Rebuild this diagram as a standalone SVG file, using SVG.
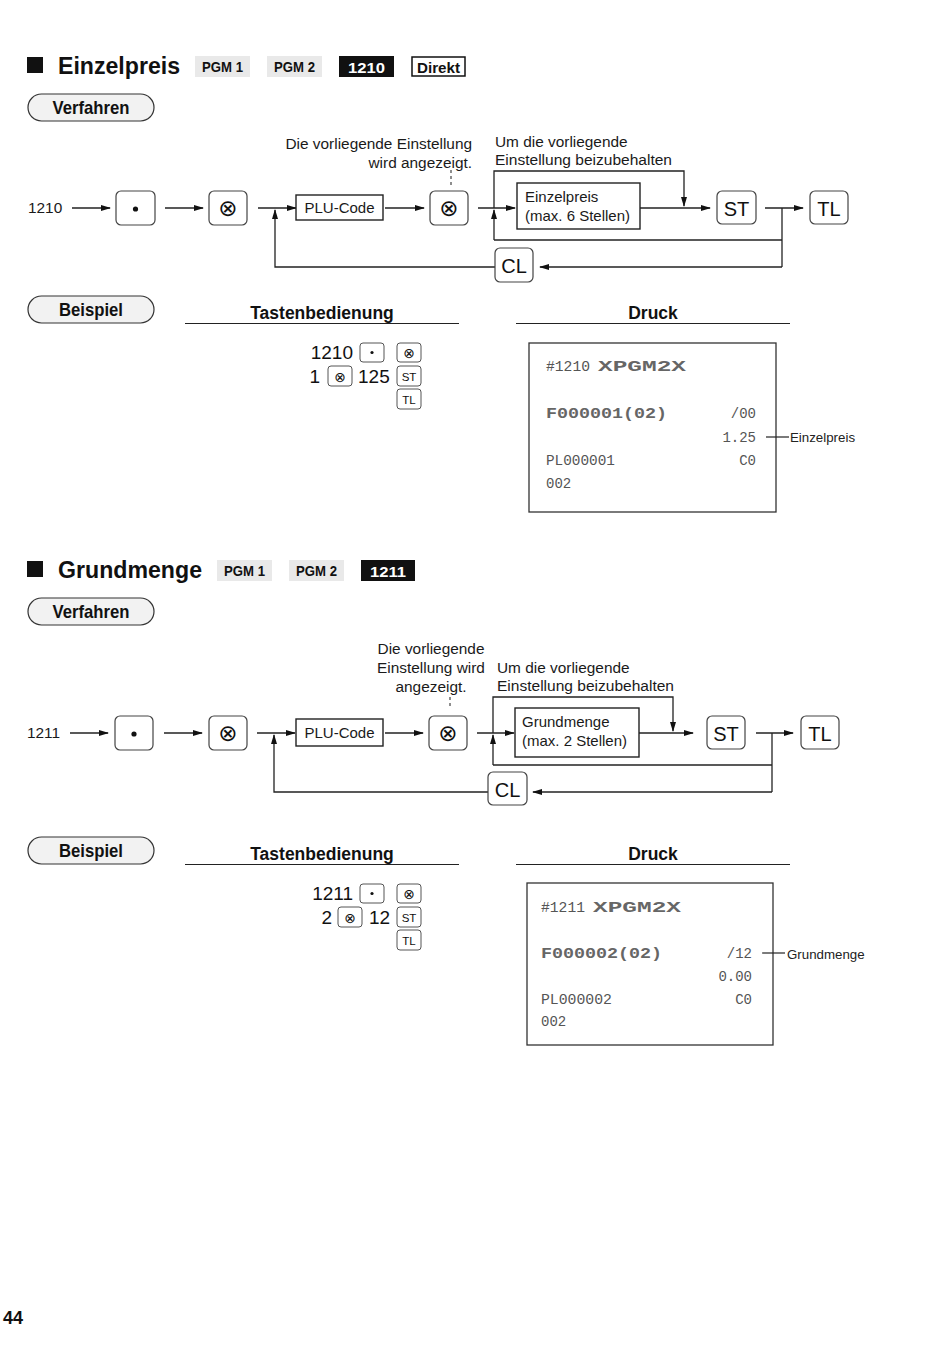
<svg xmlns="http://www.w3.org/2000/svg" width="950" height="1368" viewBox="0 0 950 1368">
<style>
.t{font-family:"Liberation Sans",Arial,sans-serif;fill:#111}
.ft{font-family:"Liberation Sans",Arial,sans-serif;font-size:15.4px;fill:#1a1a1a}
.bx{font-family:"Liberation Sans",Arial,sans-serif;font-size:15px;fill:#1a1a1a}
.key{fill:#fff;stroke:#444;stroke-width:1.2}
.klab{font-family:"Liberation Sans",Arial,sans-serif;font-size:20px;fill:#111;text-anchor:middle}
.sym{font-family:"DejaVu Sans",sans-serif;font-size:23px;fill:#111;text-anchor:middle}
.skey{fill:#fff;stroke:#555;stroke-width:1}
.ssym{font-family:"DejaVu Sans",sans-serif;font-size:14px;fill:#111;text-anchor:middle}
.slab{font-family:"Liberation Sans",Arial,sans-serif;font-size:11.5px;fill:#111;text-anchor:middle}
.ops{font-family:"Liberation Sans",Arial,sans-serif;font-size:19px;fill:#111}
.pill{fill:#f2f2f2;stroke:#333;stroke-width:1.2}
.pilltxt{font-family:"Liberation Sans",Arial,sans-serif;font-size:19px;font-weight:bold;fill:#111;text-anchor:middle}
.tag{fill:#e9e9e9}
.tagtxt{font-family:"Liberation Sans",Arial,sans-serif;font-size:15px;font-weight:bold;fill:#111}
.head{font-family:"Liberation Sans",Arial,sans-serif;font-size:17.5px;font-weight:bold;fill:#111;text-anchor:middle}
.rc{font-family:"Liberation Mono","DejaVu Sans Mono",monospace;font-size:14px;fill:#555}
.rcb{font-family:"Liberation Mono","DejaVu Sans Mono",monospace;font-size:15px;font-weight:bold;fill:#666}
.lbl{font-family:"Liberation Sans",Arial,sans-serif;font-size:13.3px;fill:#222}
.ln{fill:none;stroke:#222;stroke-width:1.3}
.la{fill:none;stroke:#222;stroke-width:1.3;marker-end:url(#ah)}
.dash{fill:none;stroke:#444;stroke-width:1.2;stroke-dasharray:3,3}
.box{fill:#fff;stroke:#222;stroke-width:1.4}
</style>
<defs>
<marker id="ah" markerWidth="10" markerHeight="6" refX="9" refY="3" orient="auto" markerUnits="userSpaceOnUse">
<path d="M0,0 L10,3 L0,6 z" fill="#111"/>
</marker>
</defs>
<rect width="950" height="1368" fill="#fff"/>

<!-- ============ SECTION 1 ============ -->
<g id="title1">
<rect x="27" y="57" width="16" height="16" fill="#111"/>
<text class="t" x="58" y="74" font-size="23.5" font-weight="bold" textLength="122" lengthAdjust="spacingAndGlyphs">Einzelpreis</text>
<rect class="tag" x="195" y="56" width="55" height="21"/>
<text class="tagtxt" x="202" y="72" textLength="41" lengthAdjust="spacingAndGlyphs">PGM 1</text>
<rect class="tag" x="267" y="56" width="55" height="21"/>
<text class="tagtxt" x="274" y="72" textLength="41" lengthAdjust="spacingAndGlyphs">PGM 2</text>
<rect x="339" y="56" width="55" height="21" fill="#111"/>
<text class="tagtxt" x="348" y="73" style="fill:#fff" font-size="17" textLength="37" lengthAdjust="spacingAndGlyphs">1210</text>
<rect x="412" y="57" width="53" height="19" fill="#fff" stroke="#111" stroke-width="1.5"/>
<text class="tagtxt" x="417" y="73" font-size="17" textLength="43" lengthAdjust="spacingAndGlyphs">Direkt</text>
</g>

<g id="verfahren1">
<rect class="pill" x="28" y="94" width="126" height="27" rx="13.5"/>
<text class="pilltxt" x="91" y="114" textLength="77" lengthAdjust="spacingAndGlyphs">Verfahren</text>
</g>

<g id="flow1-connectors">
<line class="la" x1="72" y1="208" x2="110" y2="208"/>
<line class="la" x1="165" y1="208" x2="203" y2="208"/>
<line class="la" x1="258" y1="208" x2="296" y2="208"/>
<line class="la" x1="385" y1="208" x2="424" y2="208"/>
<line class="la" x1="478" y1="208" x2="515" y2="208"/>
<line class="la" x1="640" y1="208" x2="710" y2="208"/>
<line class="la" x1="765" y1="208" x2="803" y2="208"/>
<path class="la" d="M494,240 L494,210"/>
<path class="la" d="M494,208 L494,171 L684,171 L684,206"/>
<path class="ln" d="M782,208 L782,267"/>
<path class="ln" d="M782,240 L494,240"/>
<path class="la" d="M782,267 L540,267"/>
<path class="la" d="M495,267 L275,267 L275,210"/>
<line class="dash" x1="451" y1="170" x2="451" y2="188"/>
</g>

<g id="flow1-notes">
<text class="ft" x="472" y="149" text-anchor="end">Die vorliegende Einstellung</text>
<text class="ft" x="472" y="168" text-anchor="end">wird angezeigt.</text>
<text class="ft" x="495" y="147">Um die vorliegende</text>
<text class="ft" x="495" y="165" textLength="177" lengthAdjust="spacingAndGlyphs">Einstellung beizubehalten</text>
</g>

<g id="n1-start"><text class="ft" x="28" y="213">1210</text></g>
<g id="n1-dot"><rect class="key" x="116" y="191" width="39" height="34" rx="5"/><circle cx="135.5" cy="209" r="2.6" fill="#111"/></g>
<g id="n1-x1"><rect class="key" x="209" y="191" width="38" height="34" rx="5"/><text class="sym" x="228" y="216">⊗</text></g>
<g id="n1-plu"><rect class="box" x="296" y="195" width="87" height="25"/><text class="bx" x="339.5" y="213" text-anchor="middle">PLU-Code</text></g>
<g id="n1-x2"><rect class="key" x="430" y="191" width="38" height="34" rx="5"/><text class="sym" x="449" y="216">⊗</text></g>
<g id="n1-price"><rect class="box" x="517" y="183" width="123" height="46"/><text class="bx" x="525" y="202">Einzelpreis</text><text class="bx" x="525" y="221">(max. 6 Stellen)</text></g>
<g id="n1-st"><rect class="key" x="717" y="191" width="39" height="33" rx="5"/><text class="klab" x="736.5" y="216">ST</text></g>
<g id="n1-tl"><rect class="key" x="810" y="191" width="38" height="33" rx="5"/><text class="klab" x="829" y="216">TL</text></g>
<g id="n1-cl"><rect class="key" x="495" y="248" width="38" height="34" rx="5"/><text class="klab" x="514" y="273">CL</text></g>

<g id="beispiel1">
<rect class="pill" x="28" y="296" width="126" height="27" rx="13.5"/>
<text class="pilltxt" x="91" y="316" textLength="64" lengthAdjust="spacingAndGlyphs">Beispiel</text>
<text class="head" x="322" y="319">Tastenbedienung</text>
<line x1="185" y1="323.5" x2="459" y2="323.5" stroke="#222" stroke-width="1.2"/>
<text class="head" x="653" y="319">Druck</text>
<line x1="516" y1="323.5" x2="790" y2="323.5" stroke="#222" stroke-width="1.2"/>
</g>

<g id="ops1">
<text class="ops" x="353" y="359" text-anchor="end">1210</text>
<rect class="skey" x="360" y="343" width="24" height="19" rx="3"/><circle cx="372" cy="352.5" r="1.6" fill="#111"/>
<rect class="skey" x="397" y="343" width="24" height="19" rx="3"/><text class="ssym" x="409" y="357.5">⊗</text>
<text class="ops" x="320" y="383" text-anchor="end">1</text>
<rect class="skey" x="328" y="366" width="24" height="20" rx="3"/><text class="ssym" x="340" y="381.5">⊗</text>
<text class="ops" x="358" y="383">125</text>
<rect class="skey" x="397" y="366" width="24" height="20" rx="3"/><text class="slab" x="409" y="381">ST</text>
<rect class="skey" x="397" y="389" width="24" height="20" rx="3"/><text class="slab" x="409" y="404">TL</text>
</g>

<g id="receipt1">
<rect x="529" y="343" width="247" height="169" fill="#fff" stroke="#333" stroke-width="1.3"/>
<text class="rc" x="546" y="371" textLength="44" lengthAdjust="spacingAndGlyphs">#1210</text>
<text class="rcb" x="598" y="371" textLength="88" lengthAdjust="spacingAndGlyphs">XPGM2X</text>
<text class="rcb" x="546" y="418" textLength="121" lengthAdjust="spacingAndGlyphs">F000001(02)</text>
<text class="rc" x="756" y="418" text-anchor="end">/00</text>
<text class="rc" x="756" y="442" text-anchor="end">1.25</text>
<text class="rc" x="546" y="465" textLength="69" lengthAdjust="spacingAndGlyphs">PL000001</text>
<text class="rc" x="756" y="465" text-anchor="end">C0</text>
<text class="rc" x="546" y="488">002</text>
<line x1="766" y1="437" x2="789" y2="437" stroke="#222" stroke-width="1.2"/>
<text class="lbl" x="790" y="442">Einzelpreis</text>
</g>

<!-- ============ SECTION 2 ============ -->
<g id="title2">
<rect x="27" y="561" width="16" height="16" fill="#111"/>
<text class="t" x="58" y="578" font-size="23.5" font-weight="bold" textLength="144" lengthAdjust="spacingAndGlyphs">Grundmenge</text>
<rect class="tag" x="217" y="560" width="55" height="21"/>
<text class="tagtxt" x="224" y="576" textLength="41" lengthAdjust="spacingAndGlyphs">PGM 1</text>
<rect class="tag" x="289" y="560" width="55" height="21"/>
<text class="tagtxt" x="296" y="576" textLength="41" lengthAdjust="spacingAndGlyphs">PGM 2</text>
<rect x="361" y="560" width="54" height="21" fill="#111"/>
<text class="tagtxt" x="370" y="577" style="fill:#fff" font-size="17" textLength="36" lengthAdjust="spacingAndGlyphs">1211</text>
</g>

<g id="verfahren2">
<rect class="pill" x="28" y="598" width="126" height="27" rx="13.5"/>
<text class="pilltxt" x="91" y="618" textLength="77" lengthAdjust="spacingAndGlyphs">Verfahren</text>
</g>

<g id="flow2-connectors">
<line class="la" x1="70" y1="733" x2="108" y2="733"/>
<line class="la" x1="164" y1="733" x2="202" y2="733"/>
<line class="la" x1="257" y1="733" x2="295" y2="733"/>
<line class="la" x1="385" y1="733" x2="423" y2="733"/>
<line class="la" x1="477" y1="733" x2="514" y2="733"/>
<line class="la" x1="639" y1="733" x2="693" y2="733"/>
<line class="la" x1="756" y1="733" x2="793" y2="733"/>
<path class="la" d="M493,765 L493,735"/>
<path class="la" d="M493,733 L493,697 L673,697 L673,731"/>
<path class="ln" d="M772,733 L772,792"/>
<path class="ln" d="M772,765 L493,765"/>
<path class="la" d="M772,792 L533,792"/>
<path class="la" d="M488,792 L274,792 L274,735"/>
<line class="dash" x1="450" y1="697" x2="450" y2="709"/>
</g>

<g id="flow2-notes">
<text class="ft" x="431" y="654" text-anchor="middle">Die vorliegende</text>
<text class="ft" x="431" y="673" text-anchor="middle">Einstellung wird</text>
<text class="ft" x="431" y="692" text-anchor="middle">angezeigt.</text>
<text class="ft" x="497" y="673">Um die vorliegende</text>
<text class="ft" x="497" y="691" textLength="177" lengthAdjust="spacingAndGlyphs">Einstellung beizubehalten</text>
</g>

<g id="n2-start"><text class="ft" x="27" y="738">1211</text></g>
<g id="n2-dot"><rect class="key" x="115" y="716" width="38" height="34" rx="5"/><circle cx="134" cy="734" r="2.6" fill="#111"/></g>
<g id="n2-x1"><rect class="key" x="209" y="716" width="38" height="34" rx="5"/><text class="sym" x="228" y="741">⊗</text></g>
<g id="n2-plu"><rect class="box" x="296" y="719" width="87" height="27"/><text class="bx" x="339.5" y="738" text-anchor="middle">PLU-Code</text></g>
<g id="n2-x2"><rect class="key" x="429" y="716" width="38" height="34" rx="5"/><text class="sym" x="448" y="741">⊗</text></g>
<g id="n2-qty"><rect class="box" x="515" y="708" width="124" height="49"/><text class="bx" x="522" y="727">Grundmenge</text><text class="bx" x="522" y="746">(max. 2 Stellen)</text></g>
<g id="n2-st"><rect class="key" x="707" y="716" width="38" height="33" rx="5"/><text class="klab" x="726" y="741">ST</text></g>
<g id="n2-tl"><rect class="key" x="801" y="716" width="38" height="33" rx="5"/><text class="klab" x="820" y="741">TL</text></g>
<g id="n2-cl"><rect class="key" x="488" y="772" width="39" height="33" rx="5"/><text class="klab" x="507.5" y="797">CL</text></g>

<g id="beispiel2">
<rect class="pill" x="28" y="837" width="126" height="27" rx="13.5"/>
<text class="pilltxt" x="91" y="857" textLength="64" lengthAdjust="spacingAndGlyphs">Beispiel</text>
<text class="head" x="322" y="860">Tastenbedienung</text>
<line x1="185" y1="864.5" x2="459" y2="864.5" stroke="#222" stroke-width="1.2"/>
<text class="head" x="653" y="860">Druck</text>
<line x1="516" y1="864.5" x2="790" y2="864.5" stroke="#222" stroke-width="1.2"/>
</g>

<g id="ops2">
<text class="ops" x="353" y="900" text-anchor="end">1211</text>
<rect class="skey" x="360" y="884" width="24" height="19" rx="3"/><circle cx="372" cy="893.5" r="1.6" fill="#111"/>
<rect class="skey" x="397" y="884" width="24" height="19" rx="3"/><text class="ssym" x="409" y="898.5">⊗</text>
<text class="ops" x="332" y="924" text-anchor="end">2</text>
<rect class="skey" x="338" y="907" width="24" height="20" rx="3"/><text class="ssym" x="350" y="922.5">⊗</text>
<text class="ops" x="369" y="924">12</text>
<rect class="skey" x="397" y="907" width="24" height="20" rx="3"/><text class="slab" x="409" y="922">ST</text>
<rect class="skey" x="397" y="930" width="24" height="20" rx="3"/><text class="slab" x="409" y="945">TL</text>
</g>

<g id="receipt2">
<rect x="527" y="883" width="246" height="162" fill="#fff" stroke="#333" stroke-width="1.3"/>
<text class="rc" x="541" y="912" textLength="44" lengthAdjust="spacingAndGlyphs">#1211</text>
<text class="rcb" x="593" y="912" textLength="88" lengthAdjust="spacingAndGlyphs">XPGM2X</text>
<text class="rcb" x="541" y="958" textLength="121" lengthAdjust="spacingAndGlyphs">F000002(02)</text>
<text class="rc" x="752" y="958" text-anchor="end">/12</text>
<text class="rc" x="752" y="981" text-anchor="end">0.00</text>
<text class="rc" x="541" y="1004" textLength="71" lengthAdjust="spacingAndGlyphs">PL000002</text>
<text class="rc" x="752" y="1004" text-anchor="end">C0</text>
<text class="rc" x="541" y="1026">002</text>
<line x1="762" y1="953" x2="785" y2="953" stroke="#222" stroke-width="1.2"/>
<text class="lbl" x="787" y="959">Grundmenge</text>
</g>

<g id="page-number"><text class="t" x="3" y="1324" font-size="18" font-weight="bold">44</text></g>
</svg>
